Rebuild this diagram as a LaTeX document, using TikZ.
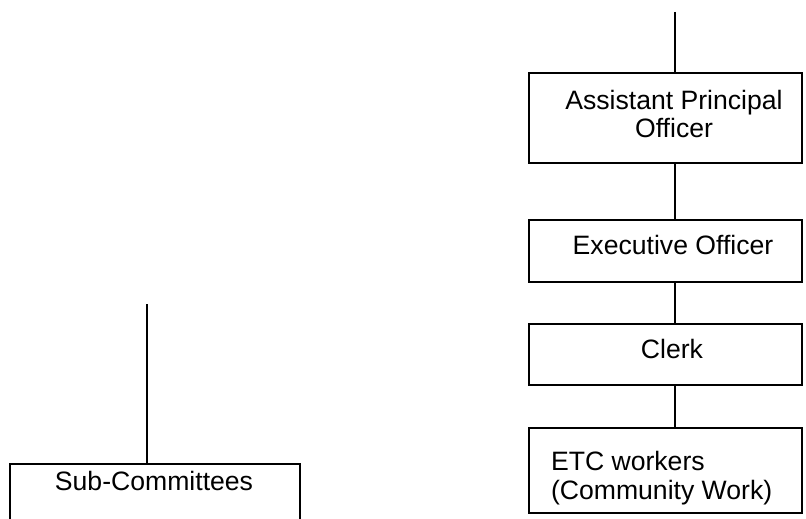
\documentclass[tikz,border=0pt]{standalone}
\usepackage{fontspec}
\setmainfont{Liberation Sans}
\usetikzlibrary{positioning}

\begin{document}
\begin{tikzpicture}[x=0.5pt, y=-0.5pt, line width=1pt,
	every node/.style={font=\fontsize{13.3}{14.2}\selectfont},
	post/.style={draw, line width=1pt, inner sep=0pt, anchor=north west},
	lbl/.style={align=center, anchor=base, inner sep=0pt}]
	\useasboundingbox (0,0) rectangle (806,518);
	% staff column on the right
	\coordinate (spine) at (675,12);
	\node[post, minimum width=136.5pt, minimum height=45pt] (apo) at (528,72) {};
	\node[post, minimum width=136.5pt, minimum height=31pt] (eo) at (528,219) {};
	\node[post, minimum width=136.5pt, minimum height=30.5pt] (clerk) at (528,323) {};
	\node[post, minimum width=136.5pt, minimum height=42.5pt] (etc) at (528,427) {};
	% two-line labels sit on the baseline of their last line
	\node[lbl] (apotxt) at (674,138) {Assistant Principal\\Officer};
	\node[lbl] (eotxt) at (673,254) {Executive Officer};
	\node[lbl] (clerktxt) at (672,358) {Clerk};
	\node[lbl, align=left, anchor=base west] (etctxt) at (550,499) {ETC workers\\(Community Work)};
	\draw (spine) -- (spine |- apo.north);
	\draw (apo.south -| spine) -- (eo.north -| spine);
	\draw (eo.south -| spine) -- (clerk.north -| spine);
	\draw (clerk.south -| spine) -- (etc.north -| spine);
	% committee branch on the left
	\coordinate (branch) at (147,304);
	\node[post, minimum width=145pt, minimum height=50pt] (sub) at (9,463) {};
	\node[lbl] (subtxt) at (154,490) {Sub-Committees};
	\draw (branch) -- (branch |- sub.north);
\end{tikzpicture}
\end{document}
